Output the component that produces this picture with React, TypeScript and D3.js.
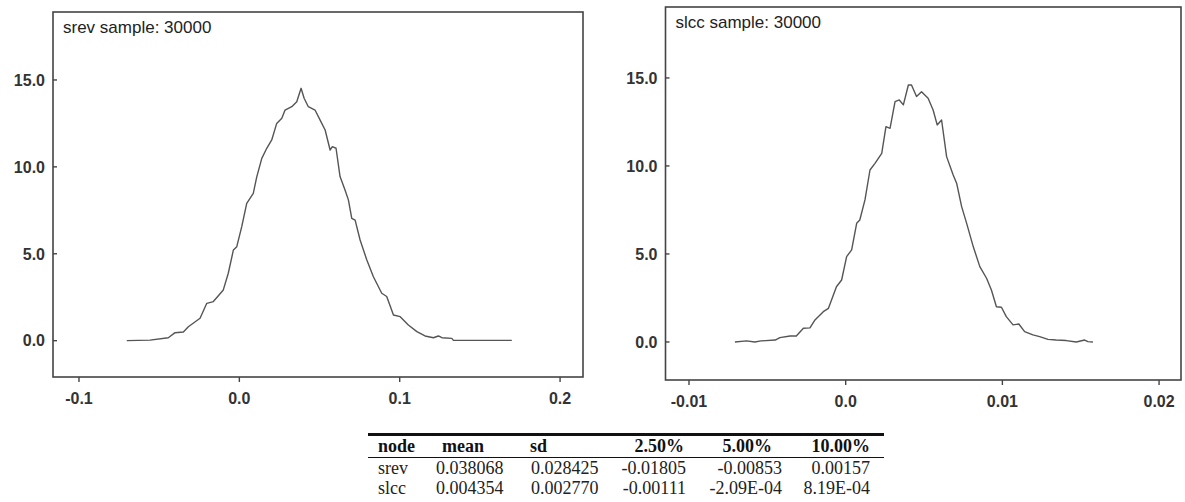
import React from "react";
import * as d3 from "d3";

// srev density: [value, density]
const srevX = [-0.0702, -0.0557, -0.0443, -0.0401, -0.0349, -0.0318, -0.0245, -0.0203, -0.0162, -0.0100, -0.0069, -0.0037, -0.0016, 0.0015, 0.0046, 0.0087, 0.0109, 0.0140, 0.0171, 0.0202, 0.0233, 0.0265, 0.0285, 0.0327, 0.0358, 0.0385, 0.0404, 0.0430, 0.0472, 0.0503, 0.0535, 0.0566, 0.0580, 0.0603, 0.0628, 0.0659, 0.0680, 0.0701, 0.0722, 0.0753, 0.0795, 0.0836, 0.0888, 0.0919, 0.0961, 0.1003, 0.1054, 0.1107, 0.1158, 0.1210, 0.1241, 0.1263, 0.1325, 0.1335, 0.1699];
const srevY = [0.0, 0.03, 0.17, 0.46, 0.5, 0.8, 1.29, 2.15, 2.25, 2.92, 3.88, 5.22, 5.41, 6.56, 7.9, 8.48, 9.44, 10.49, 11.07, 11.55, 12.5, 12.8, 13.27, 13.46, 13.75, 14.52, 13.95, 13.46, 13.27, 12.7, 12.12, 10.97, 11.16, 11.07, 9.44, 8.67, 8.1, 7.04, 6.94, 5.79, 4.64, 3.68, 2.73, 2.54, 1.48, 1.38, 0.9, 0.52, 0.27, 0.17, 0.27, 0.17, 0.13, 0.02, 0.02];

// slcc density
const slccX = [-0.00707, -0.00633, -0.0058, -0.0054, -0.0045, -0.0042, -0.00355, -0.00315, -0.0027, -0.00228, -0.00196, -0.00143, -0.0011, -0.00059, -0.00026, 0.00006, 0.00038, 0.0007, 0.0009, 0.00123, 0.00155, 0.00187, 0.0023, 0.00257, 0.00283, 0.00315, 0.00342, 0.00368, 0.004, 0.0042, 0.00452, 0.00484, 0.00526, 0.00558, 0.00584, 0.00612, 0.00644, 0.00686, 0.00708, 0.0074, 0.00772, 0.00814, 0.00856, 0.00899, 0.0093, 0.00962, 0.00994, 0.01025, 0.01068, 0.01089, 0.01105, 0.01142, 0.01195, 0.01238, 0.01291, 0.01344, 0.01408, 0.01472, 0.01525, 0.01546, 0.01578];
const slccY = [0.0, 0.06, 0.0, 0.06, 0.11, 0.25, 0.34, 0.34, 0.78, 0.8, 1.25, 1.72, 1.91, 3.14, 3.52, 4.85, 5.23, 6.74, 6.93, 8.07, 9.77, 10.15, 10.72, 12.23, 12.14, 13.65, 13.75, 13.47, 14.6, 14.6, 13.94, 14.22, 13.85, 13.18, 12.33, 12.61, 10.53, 9.49, 9.02, 7.69, 6.74, 5.42, 4.28, 3.62, 2.95, 2.0, 1.97, 1.44, 0.97, 1.0, 1.02, 0.59, 0.4, 0.3, 0.15, 0.11, 0.08, 0.0, 0.11, 0.02, 0.0];

const srevTicksX = [-0.1, 0.0, 0.1, 0.2];
const srevTickLabelsX = ["-0.1", "0.0", "0.1", "0.2"];
const slccTicksX = [-0.01, 0.0, 0.01, 0.02];
const slccTickLabelsX = ["-0.01", "0.0", "0.01", "0.02"];
const ticksY = [0, 5, 10, 15];
const tickLabelsY = ["0.0", "5.0", "10.0", "15.0"];

const tableHeader = ["node", "mean", "sd", "2.50%", "5.00%", "10.00%"];
const tableRowSrev = ["srev", "0.038068", "0.028425", "-0.01805", "-0.00853", "0.00157"];
const tableRowSlcc = ["slcc", "0.004354", "0.002770", "-0.00111", "-2.09E-04", "8.19E-04"];

type PanelProps = {
  title: string;
  xs: number[];
  ys: number[];
  xDomain: [number, number];
  yDomain: [number, number];
  box: { x0: number; x1: number; y0: number; y1: number };
  ticksX: number[];
  labelsX: string[];
};

function Panel({ title, xs, ys, xDomain, yDomain, box, ticksX, labelsX }: PanelProps) {
  const x = d3.scaleLinear().domain(xDomain).range([box.x0, box.x1]);
  const y = d3.scaleLinear().domain(yDomain).range([box.y1, box.y0]);
  const pts: [number, number][] = xs.map((v, i) => [v, ys[i]]);
  const line = d3
    .line<[number, number]>()
    .x((d) => x(d[0]))
    .y((d) => y(d[1]));
  return (
    <g>
      <rect
        x={box.x0}
        y={box.y0}
        width={box.x1 - box.x0}
        height={box.y1 - box.y0}
        fill="none"
        stroke="#444"
        strokeWidth={1.6}
      />
      <text x={box.x0 + 10} y={box.y0 + 21} fontFamily="Liberation Sans, Arial, sans-serif" fontSize={17} fill="#222">
        {title}
      </text>
      {ticksY.map((t, i) => (
        <g key={"y" + i}>
          <line x1={box.x0} x2={box.x0 + 4} y1={y(t)} y2={y(t)} stroke="#444" strokeWidth={1.4} />
          <text
            x={box.x0 - 8}
            y={y(t)}
            dy="0.36em"
            textAnchor="end"
            fontFamily="Liberation Sans, Arial, sans-serif"
            fontWeight="bold"
            fontSize={16}
            fill="#333"
          >
            {tickLabelsY[i]}
          </text>
        </g>
      ))}
      {ticksX.map((t, i) => (
        <g key={"x" + i}>
          <line x1={x(t)} x2={x(t)} y1={box.y1} y2={box.y1 + 5} stroke="#444" strokeWidth={1.4} />
          <text
            x={x(t)}
            y={box.y1 + 27}
            textAnchor="middle"
            fontFamily="Liberation Sans, Arial, sans-serif"
            fontWeight="bold"
            fontSize={16}
            fill="#333"
          >
            {labelsX[i]}
          </text>
        </g>
      ))}
      <path d={line(pts) || ""} fill="none" stroke="#555" strokeWidth={1.4} strokeLinejoin="round" />
    </g>
  );
}

export default function App() {
  const colLeft = [378, 442, 530];
  const dataLeft = [378, 436, 531];
  const headRight = [684, 772, 870];
  const dataRight = [686, 782, 870];
  const rows = [tableRowSrev, tableRowSlcc];
  const rowY = [474, 494];
  const tf = "Liberation Serif, Times New Roman, serif";
  return (
    <svg
      width={1185}
      height={502}
      style={{ position: "absolute", left: 0, top: 0, background: "#fff" }}
    >
      <rect x={0} y={0} width={1185} height={502} fill="#fff" />
      <Panel
        title="srev sample: 30000"
        xs={srevX}
        ys={srevY}
        xDomain={[-0.1162, 0.2143]}
        yDomain={[-2.09, 18.91]}
        box={{ x0: 53, x1: 583, y0: 12, y1: 377 }}
        ticksX={srevTicksX}
        labelsX={srevTickLabelsX}
      />
      <Panel
        title="slcc sample: 30000"
        xs={slccX}
        ys={slccY}
        xDomain={[-0.0115, 0.0214]}
        yDomain={[-2.16, 19.03]}
        box={{ x0: 665.5, x1: 1181, y0: 7, y1: 380 }}
        ticksX={slccTicksX}
        labelsX={slccTickLabelsX}
      />
      <line x1={368} x2={884} y1={434.5} y2={434.5} stroke="#111" strokeWidth={3} />
      <line x1={368} x2={884} y1={457.5} y2={457.5} stroke="#111" strokeWidth={1} />
      {tableHeader.map((h, i) => (
        <text
          key={"h" + i}
          x={i < 3 ? colLeft[i] : headRight[i - 3]}
          y={452}
          textAnchor={i < 3 ? "start" : "end"}
          fontFamily={tf}
          fontWeight="bold"
          fontSize={18}
          fill="#111"
        >
          {h}
        </text>
      ))}
      {rows.map((r, ri) =>
        r.map((c, i) => (
          <text
            key={"r" + ri + "c" + i}
            x={i < 3 ? dataLeft[i] : dataRight[i - 3]}
            y={rowY[ri]}
            textAnchor={i < 3 ? "start" : "end"}
            fontFamily={tf}
            fontSize={18}
            fill="#222"
          >
            {c}
          </text>
        ))
      )}
    </svg>
  );
}
